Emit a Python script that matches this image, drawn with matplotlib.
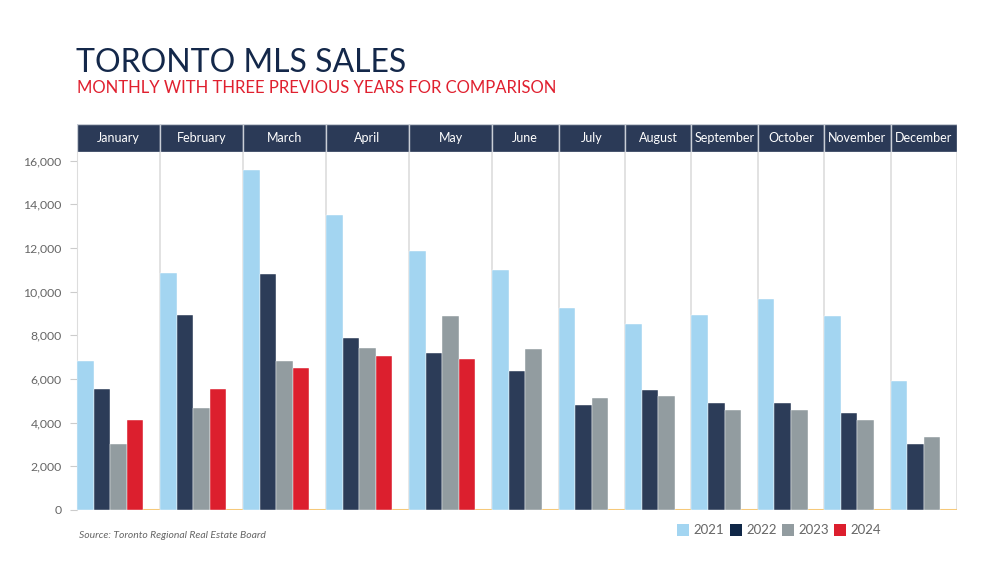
import matplotlib.pyplot as plt
from matplotlib.patches import Rectangle

months = ['January', 'February', 'March', 'April', 'May', 'June',
          'July', 'August', 'September', 'October', 'November', 'December']
sales_2021 = [6820, 10870, 15580, 13530, 11850, 11000, 9270, 8520, 8940, 9660, 8900, 5930]
sales_2022 = [5540, 8940, 10810, 7860, 7190, 6380, 4800, 5520, 4900, 4890, 4430, 3040]
sales_2023 = [3040, 4690, 6820, 7420, 8900, 7370, 5150, 5200, 4570, 4570, 4130, 3360]
sales_2024 = [4130, 5540, 6500, 7060, 6940]
years = ['2021', '2022', '2023', '2024']
y_ticks = [0, 2000, 4000, 6000, 8000, 10000, 12000, 14000, 16000]

colors = ['#a3d5f1', '#2c3c58', '#929ca0', '#dc1f2e']
legend_colors = ['#a3d5f1', '#0f2747', '#929ca0', '#dc1f2e']
NAVY = '#2b3a57'
LINE = '#dddddd'

series = [sales_2021, sales_2022, sales_2023, sales_2024]

# each month gets one slot per bar plus one empty slot
starts = []
pos = 0
for i in range(len(months)):
    starts.append(pos)
    n = sum(1 for s in series if i < len(s))
    pos += n + 1
total = pos

W, H = 1006, 567
fig = plt.figure(figsize=(W / 100, H / 100), dpi=100)

def box(x0, y0, x1, y1):
    return [x0 / W, 1 - y1 / H, (x1 - x0) / W, (y1 - y0) / H]

ax = fig.add_axes(box(77, 152, 957, 510))
hx = fig.add_axes(box(77, 124, 957, 152))

for k, s in enumerate(series):
    xs = [starts[i] + k for i in range(len(s))]
    ax.bar(xs, s, width=1, align='edge', color=colors[k],
           edgecolor='white', linewidth=0.3, zorder=3)

ax.set_xlim(0, total)
ax.set_ylim(0, 16400)
ax.set_yticks(y_ticks)
ax.set_yticklabels([f'{v:,}' for v in y_ticks])
ax.tick_params(axis='y', length=5, color='#cccccc', labelcolor='#666666',
               labelsize=8.8, pad=6)
for lab in ax.get_yticklabels():
    lab.set_family('Lato')
ax.set_xticks([])
for sp in ['top', 'right', 'bottom']:
    ax.spines[sp].set_visible(False)
ax.spines['left'].set_color(LINE)
ax.axhline(0, color='#f6c97a', linewidth=2.2, zorder=2)
for b in starts[1:] + [total]:
    ax.axvline(b, color=LINE, linewidth=1.2, zorder=1)

# month header band
hx.set_xlim(0, total)
hx.set_ylim(0, 1)
hx.axis('off')
bounds = starts + [total]
for i, m in enumerate(months):
    hx.add_patch(Rectangle((bounds[i], 0), bounds[i + 1] - bounds[i], 1,
                           facecolor=NAVY, edgecolor='#c9ced6', linewidth=1))
    hx.text((bounds[i] + bounds[i + 1]) / 2, 0.5, m, color='white',
            ha='center', va='center', fontsize=9, family='Lato')

fig.text(76 / W, 1 - 72 / H, 'TORONTO MLS SALES', color='#14284a',
         fontsize=23, family='Lato', ha='left', va='baseline')
fig.text(77 / W, 1 - 93 / H, 'MONTHLY WITH THREE PREVIOUS YEARS FOR COMPARISON',
         color='#e0202f', fontsize=12, family='Lato',
         ha='left', va='baseline')
fig.text(79 / W, 1 - 538 / H, 'Source: Toronto Regional Real Estate Board',
         color='#666666', fontsize=7.5, style='italic', family='Lato',
         ha='left', va='baseline')

# legend
lx = [677, 730, 782, 834]
for k, y in enumerate(years):
    fig.patches.append(Rectangle((lx[k] / W, 1 - 536 / H), 12 / W, 12 / H,
                                 transform=fig.transFigure,
                                 facecolor=legend_colors[k], edgecolor='none'))
    fig.text((lx[k] + 16) / W, 1 - 530 / H, y, color='#666666', fontsize=9.5,
             family='Lato', ha='left', va='center')

fig.savefig('out.png', dpi=100)
